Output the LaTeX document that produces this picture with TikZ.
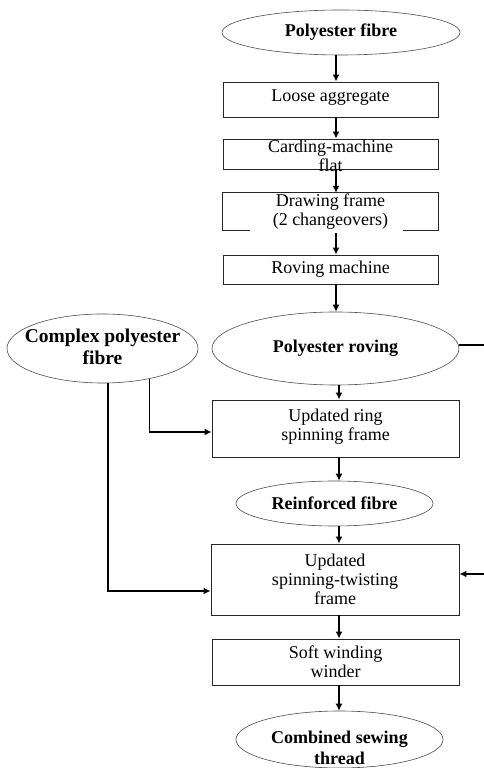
\documentclass[tikz,border=0pt]{standalone}
\usepackage{fontspec}
\setmainfont{Liberation Serif}
\usetikzlibrary{arrows.meta,shapes.geometric,calc}
\begin{document}
\begin{tikzpicture}[x=1pt,y=1pt,
  boxnode/.style={draw=black!85,line width=0.9pt,rectangle,inner sep=0pt},
  openbox/.style={rectangle,inner sep=0pt},
  ellnode/.style={draw=black!70,line width=0.6pt,ellipse,inner sep=0pt},
  txt/.style={font=\fontsize{18}{19}\selectfont,align=center,inner sep=0pt},
  btxt/.style={txt,font=\fontsize{18}{21}\selectfont\bfseries},
  bigbtxt/.style={txt,font=\fontsize{19.5}{22}\selectfont\bfseries},
  arr/.style={line width=1.3pt,-{Latex[length=7pt,width=7pt]}},
  conn/.style={line width=1.3pt}]
\useasboundingbox (0,0) rectangle (484,768);

% spines
\coordinate (sp1) at (336,0);
\coordinate (sp2) at (339,0);
\coordinate (rE1) at (484,423);
\coordinate (rE2) at (484,194);

% nodes
\node[ellnode,minimum width=238pt,minimum height=45pt,
  label={[btxt,name=pfT]center:Polyester fibre}] (pf) at (341,735.5) {};
\node[boxnode,minimum width=215pt,minimum height=35pt,
  label={[txt,name=laT,yshift=2pt]center:Loose aggregate}] (la) at (330.5,668.5) {};
\node[boxnode,minimum width=215pt,minimum height=30pt,
  label={[txt,name=cmT,yshift=-2pt]center:{Carding-machine\\flat}}] (cm) at (330.5,614) {};
\node[openbox,minimum width=215pt,minimum height=37pt,
  label={[txt,name=dfT]center:{Drawing frame\\(2 changeovers)}}] (df) at (330.5,556.5) {};
\node[boxnode,minimum width=215pt,minimum height=29pt,
  label={[txt,name=rmT]center:Roving machine}] (rm) at (330.5,498.5) {};
\node[ellnode,minimum width=191pt,minimum height=69pt,
  label={[bigbtxt,name=cpfT,yshift=2pt]center:{Complex polyester\\fibre}}] (cpf) at (102.5,419.5) {};
\node[ellnode,minimum width=247pt,minimum height=73pt,
  label={[btxt,name=prT]center:Polyester roving}] (pr) at (335.5,419.5) {};
\node[boxnode,minimum width=247pt,minimum height=57pt,
  label={[txt,name=urT,yshift=2pt]center:{Updated ring\\spinning frame}}] (ur) at (335.5,339.5) {};
\node[ellnode,minimum width=197pt,minimum height=45pt,
  label={[btxt,name=rfT]center:Reinforced fibre}] (rf) at (334.5,264.5) {};
\node[boxnode,minimum width=248pt,minimum height=71pt,
  label={[txt,name=stT]center:{Updated\\spinning-twisting\\frame}}] (st) at (335,188.5) {};
\node[boxnode,minimum width=247pt,minimum height=46pt,
  label={[txt,name=swT]center:{Soft winding\\winder}}] (sw) at (335.5,106) {};
\node[ellnode,minimum width=207pt,minimum height=57pt,
  label={[btxt,name=cstT,yshift=-8pt]center:{Combined sewing\\thread}}] (cst) at (339.5,28.5) {};

% drawing frame outline with broken bottom edge
\draw[draw=black!85,line width=0.9pt]
  ([xshift=27pt]df.south west) -- (df.south west) -- (df.north west)
  -- (df.north east) -- (df.south east) -- ([xshift=-35pt]df.south east);

% main flow
\draw[arr] (pf.south -| sp1) -- (la.north -| sp1);
\draw[arr] (la.south -| sp1) -- (cm.north -| sp1);
\draw[arr] (cm.south -| sp1) -- (df.north -| sp1);
\draw[arr] ([yshift=-3pt]df.south -| sp1) -- (rm.north -| sp1);
\draw[arr] (rm.south -| sp1) -- (pr.north -| sp1);
\draw[arr] (pr.south -| sp2) -- (ur.north -| sp2);
\draw[arr] (ur.south -| sp2) -- (rf.north -| sp2);
\draw[arr] (rf.south -| sp2) -- (st.north -| sp2);
\draw[arr] (st.south -| sp2) -- (sw.north -| sp2);
\draw[arr] (sw.south -| sp2) -- (cst.north -| sp2);

% side inputs from complex polyester fibre
\draw[arr] (cpf.-33.7) |- ([yshift=-3.5pt]ur.west);
\draw[arr] ([xshift=5.5pt]cpf.south) |- ([yshift=-11.5pt]st.west);

% right stubs
\draw[conn] (pr.east |- rE1) -- (rE1);
\draw[arr] (rE2) -- (st.east |- rE2);
\end{tikzpicture}
\end{document}
